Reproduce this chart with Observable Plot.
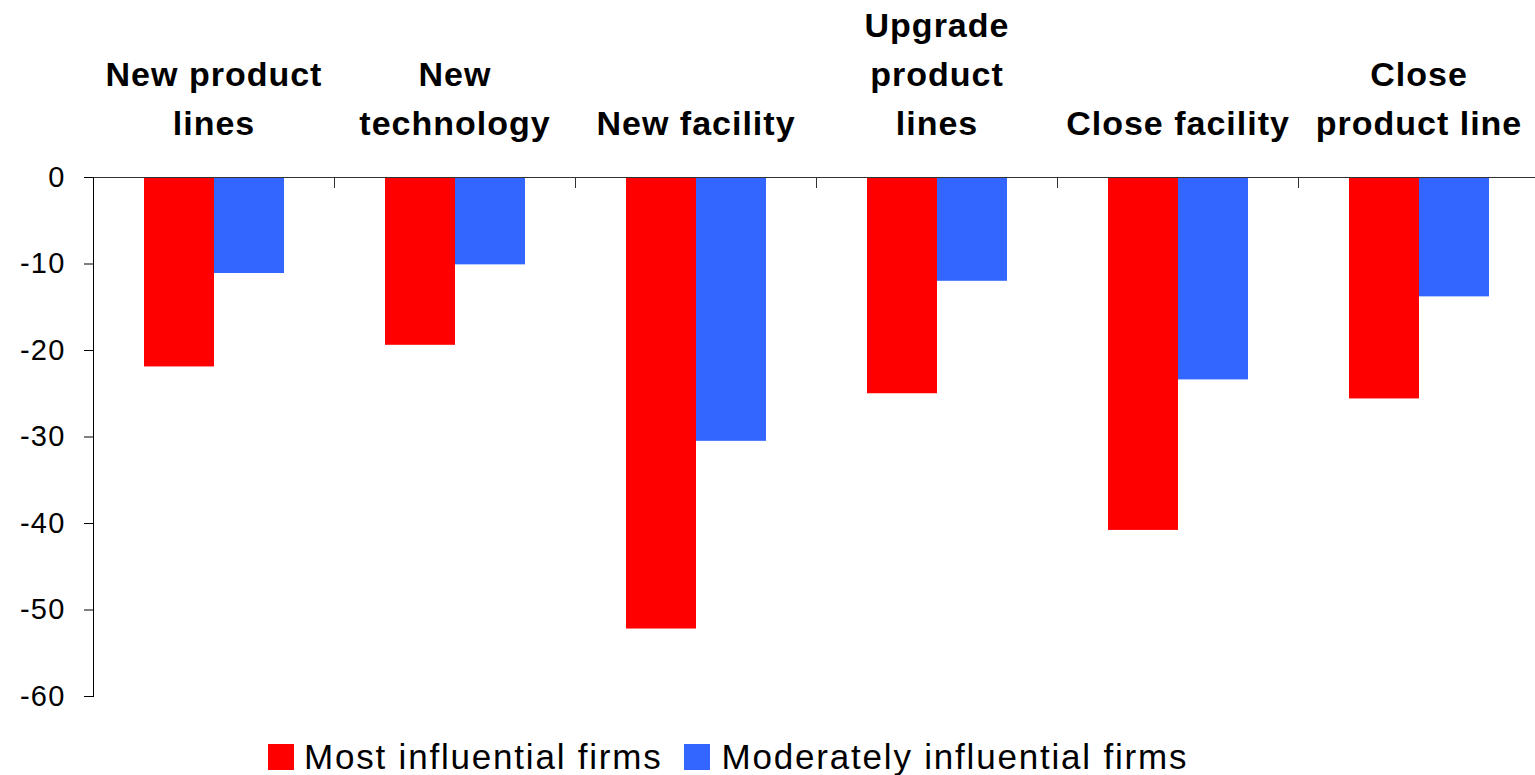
<!DOCTYPE html>
<html>
<head>
<meta charset="utf-8">
<script src="https://cdn.jsdelivr.net/npm/d3@7"></script>
<script src="https://cdn.jsdelivr.net/npm/@observablehq/plot@0.6"></script>
<style>
  html, body { margin: 0; padding: 0; background: #fff; overflow: hidden; }
  #chart svg { display: block; max-width: none !important; width: 1540px !important; height: 739px !important; }
  #chart g[aria-label="text"] text { letter-spacing: 1px; }
  #chart g[aria-label="y-axis tick label"] text { letter-spacing: 1.2px; }
  .legend { display: flex; align-items: center; height: 36px; padding-left: 268px;
    font-family: "Liberation Sans", Arial, sans-serif; font-size: 35px; letter-spacing: 1.8px; color: #000; }
  .sw { width: 26px; height: 26px; display: inline-block; }
</style>
</head>
<body>
<div id="chart"></div>
<div class="legend" id="legend"></div>
<script>
const categories = ["New product lines", "New technology", "New facility", "Upgrade product lines", "Close facility", "Close product line"];
const labels = ["New product\nlines", "New\ntechnology", "New facility", "Upgrade\nproduct\nlines", "Close facility", "Close\nproduct line"];
const series = ["Most influential firms", "Moderately influential firms"];
const mostValues = [-21.9, -19.4, -52.2, -25.0, -40.8, -25.6];
const moderateValues = [-11.1, -10.1, -30.5, -12.0, -23.4, -13.8];
const yTicks = [0, -10, -20, -30, -40, -50, -60];
const colors = ["#FF0000", "#3366FF"];

const rows = categories.flatMap((c, i) => [
  {category: c, series: series[0], value: mostValues[i]},
  {category: c, series: series[1], value: moderateValues[i]}
]);

const chart = Plot.plot({
  width: 1540,
  height: 739,
  marginTop: 177,
  marginLeft: 91,
  marginRight: 0,
  marginBottom: 43,
  style: {fontFamily: "'Liberation Sans', Arial, sans-serif", background: "white", color: "black", overflow: "visible"},
  fx: {domain: categories, padding: 0, axis: null},
  x: {domain: series, paddingInner: 0, paddingOuter: 0.71, axis: null},
  y: {domain: [-60, 0], axis: null},
  color: {domain: series, range: colors},
  marks: [
    Plot.barY(rows, {fx: "category", x: "series", y: "value", fill: "series"}),
    Plot.ruleY([0], {stroke: "#333"}),
    Plot.frame({anchor: "left", insetBottom: 509, stroke: "#333"}),
    Plot.frame({anchor: "left", facetAnchor: "left", stroke: "#000"}),
    Plot.axisY({ticks: yTicks, tickSize: 9, tickPadding: 19, fontSize: 29, tickFormat: d => `${d}`, label: null}),
    Plot.text(categories, {
      fx: d => d,
      text: (d, i) => labels[i],
      frameAnchor: "top",
      lineAnchor: "bottom",
      dy: -43,
      fontSize: 34,
      fontWeight: "bold",
      lineHeight: 1.43,
      fill: "#000"
    })
  ]
});
document.getElementById("chart").appendChild(chart);

const legend = document.getElementById("legend");
series.forEach((s, i) => {
  const sw = document.createElement("span");
  sw.className = "sw";
  sw.style.background = colors[i];
  sw.style.marginRight = i === 0 ? "10px" : "12px";
  legend.appendChild(sw);
  const t = document.createElement("span");
  t.textContent = s;
  if (i === 0) t.style.marginRight = "21px";
  legend.appendChild(t);
});
</script>
</body>
</html>
